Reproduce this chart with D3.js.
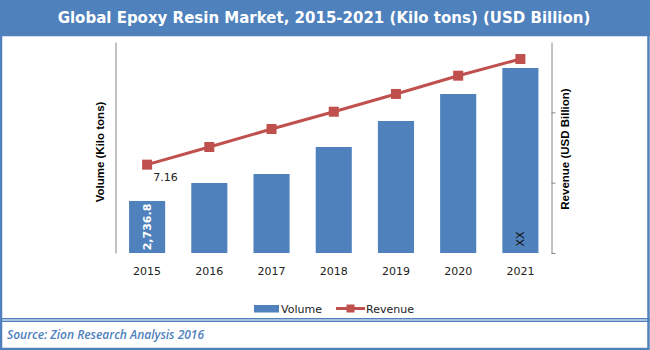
<!DOCTYPE html>
<html>
<head>
<meta charset="utf-8">
<script src="https://cdn.jsdelivr.net/npm/d3@7"></script>
<style>
  html, body { margin: 0; padding: 0; background: #fff; }
  svg { display: block; }
</style>
</head>
<body>
<svg id="chart" width="650" height="350"></svg>
<script>
// Global epoxy resin market: volume (kilo tons) as bars, revenue (USD billion) as a line
const years = ["2015", "2016", "2017", "2018", "2019", "2020", "2021"];
const volume = [2736.8, 3683, 4156, 5576, 6944, 8365, 9732];
const revenue = [7.16, 8.59, 10.05, 11.45, 12.89, 14.37, 15.72];
const revenueTicks = [0, 5.7, 11.4];
const volumeLabels = ["2,736.8", "", "", "", "", "", "XX"];
const revenueLabels = ["7.16", "", "", "", "", "", ""];

const blue = "#4F81BD";
const red = "#C0504D";
const axisGrey = "#868686";
const textDark = "#222";

const svg = d3.select("#chart");

// Frame: title band, side/bottom borders and the double rule above the source note
svg.append("rect").attr("x", 0).attr("y", 0).attr("width", 650).attr("height", 36).attr("fill", blue);
svg.append("rect").attr("x", 1).attr("y", 35).attr("width", 647.5).attr("height", 314)
  .attr("fill", "none").attr("stroke", blue).attr("stroke-width", 2.5);
svg.append("line").attr("x1", 0).attr("x2", 650).attr("y1", 318.8).attr("y2", 318.8)
  .attr("stroke", blue).attr("stroke-width", 1.4);
svg.append("line").attr("x1", 0).attr("x2", 650).attr("y1", 321.2).attr("y2", 321.2)
  .attr("stroke", blue).attr("stroke-width", 1.4);

svg.append("text")
  .attr("x", 324).attr("y", 23)
  .attr("text-anchor", "middle")
  .attr("font-family", "DejaVu Sans, sans-serif")
  .attr("font-weight", "bold")
  .attr("font-size", 15)
  .attr("fill", "#fff")
  .text("Global Epoxy Resin Market, 2015-2021 (Kilo tons) (USD Billion)");

svg.append("text")
  .attr("x", 7).attr("y", 339)
  .attr("font-family", "Open Sans, sans-serif")
  .attr("font-style", "italic")
  .attr("font-weight", 600)
  .attr("font-size", 12)
  .attr("fill", blue)
  .text("Source: Zion Research Analysis 2016");

// Plot area
const plot = { left: 116, right: 551.5, top: 42, bottom: 253 };

const x = d3.scaleBand()
  .domain(years)
  .range([plot.left, plot.right])
  .paddingInner(0.42)
  .paddingOuter(0.21);

const yVol = d3.scaleLinear().domain([0, 11100]).range([plot.bottom, plot.top]);
const yRev = d3.scaleLinear().domain([0, 17.1]).range([plot.bottom, plot.top]);

// Left axis: plain line without ticks
const leftAxis = svg.append("g")
  .attr("transform", `translate(${plot.left - 0.5},0)`)
  .call(d3.axisLeft(yVol).tickValues([]).tickSizeOuter(0));
leftAxis.select(".domain").attr("stroke", axisGrey);

// Right axis: line with short outward ticks, no labels
const rightAxis = svg.append("g")
  .attr("transform", `translate(${plot.right},0)`)
  .call(d3.axisRight(yRev).tickValues(revenueTicks).tickSize(4).tickSizeOuter(0).tickFormat(""));
rightAxis.selectAll(".domain, .tick line").attr("stroke", axisGrey);

// Year labels
svg.append("g").selectAll("text")
  .data(years)
  .join("text")
  .attr("x", d => x(d) + x.bandwidth() / 2)
  .attr("y", 275)
  .attr("text-anchor", "middle")
  .attr("font-family", "DejaVu Sans, sans-serif")
  .attr("font-size", 11)
  .attr("fill", textDark)
  .text(d => d);

// Axis titles
svg.append("text")
  .attr("transform", `translate(104,152) rotate(-90)`)
  .attr("text-anchor", "middle")
  .attr("font-family", "Liberation Sans, Arial, sans-serif")
  .attr("font-weight", "bold")
  .attr("font-size", 11.5)
  .attr("fill", "#000")
  .text("Volume (Kilo tons)");

svg.append("text")
  .attr("transform", `translate(569,149) rotate(-90)`)
  .attr("text-anchor", "middle")
  .attr("font-family", "Liberation Sans, Arial, sans-serif")
  .attr("font-weight", "bold")
  .attr("font-size", 11.5)
  .attr("fill", "#000")
  .text("Revenue (USD Billion)");

// Volume bars
const rows = years.map((yr, i) => ({ yr, vol: volume[i], rev: revenue[i], volLabel: volumeLabels[i], revLabel: revenueLabels[i] }));

svg.append("g").selectAll("rect")
  .data(rows)
  .join("rect")
  .attr("x", d => x(d.yr))
  .attr("y", d => yVol(d.vol))
  .attr("width", x.bandwidth())
  .attr("height", d => yVol(0) - yVol(d.vol))
  .attr("fill", blue);

// Rotated labels inside the bars
svg.append("g").selectAll("text")
  .data(rows.filter(d => d.volLabel))
  .join("text")
  .attr("transform", d => {
    const cx = x(d.yr) + x.bandwidth() / 2 + 4;
    const cy = d.volLabel === "XX" ? 239 : (yVol(d.vol) + yVol(0)) / 2;
    return `translate(${cx},${cy}) rotate(-90)`;
  })
  .attr("text-anchor", "middle")
  .attr("font-family", "DejaVu Sans, sans-serif")
  .attr("font-size", 11)
  .attr("font-weight", d => d.volLabel === "XX" ? "normal" : "bold")
  .attr("fill", d => d.volLabel === "XX" ? "#111" : "#fff")
  .text(d => d.volLabel);

// Revenue line with square markers
const cxOf = d => x(d.yr) + x.bandwidth() / 2;
const line = d3.line().x(cxOf).y(d => yRev(d.rev));

svg.append("path")
  .datum(rows)
  .attr("d", line)
  .attr("fill", "none")
  .attr("stroke", red)
  .attr("stroke-width", 3);

svg.append("g").selectAll("rect")
  .data(rows)
  .join("rect")
  .attr("x", d => cxOf(d) - 5)
  .attr("y", d => yRev(d.rev) - 5)
  .attr("width", 10)
  .attr("height", 10)
  .attr("fill", red);

svg.append("g").selectAll("text")
  .data(rows.filter(d => d.revLabel))
  .join("text")
  .attr("x", d => cxOf(d) + 18.5)
  .attr("y", d => yRev(d.rev) + 16)
  .attr("text-anchor", "middle")
  .attr("font-family", "DejaVu Sans, sans-serif")
  .attr("font-size", 11)
  .attr("fill", textDark)
  .text(d => d.revLabel);

// Legend
const legend = svg.append("g");
legend.append("rect").attr("x", 254).attr("y", 305).attr("width", 25).attr("height", 7.5).attr("fill", blue);
legend.append("text").attr("x", 281).attr("y", 313)
  .attr("font-family", "DejaVu Sans, sans-serif").attr("font-size", 11).attr("fill", textDark)
  .text("Volume");
legend.append("line").attr("x1", 336).attr("x2", 365).attr("y1", 308.5).attr("y2", 308.5)
  .attr("stroke", red).attr("stroke-width", 3);
legend.append("rect").attr("x", 346.5).attr("y", 304.5).attr("width", 8).attr("height", 8).attr("fill", red);
legend.append("text").attr("x", 366).attr("y", 313)
  .attr("font-family", "DejaVu Sans, sans-serif").attr("font-size", 11).attr("fill", textDark)
  .text("Revenue");
</script>
</body>
</html>
